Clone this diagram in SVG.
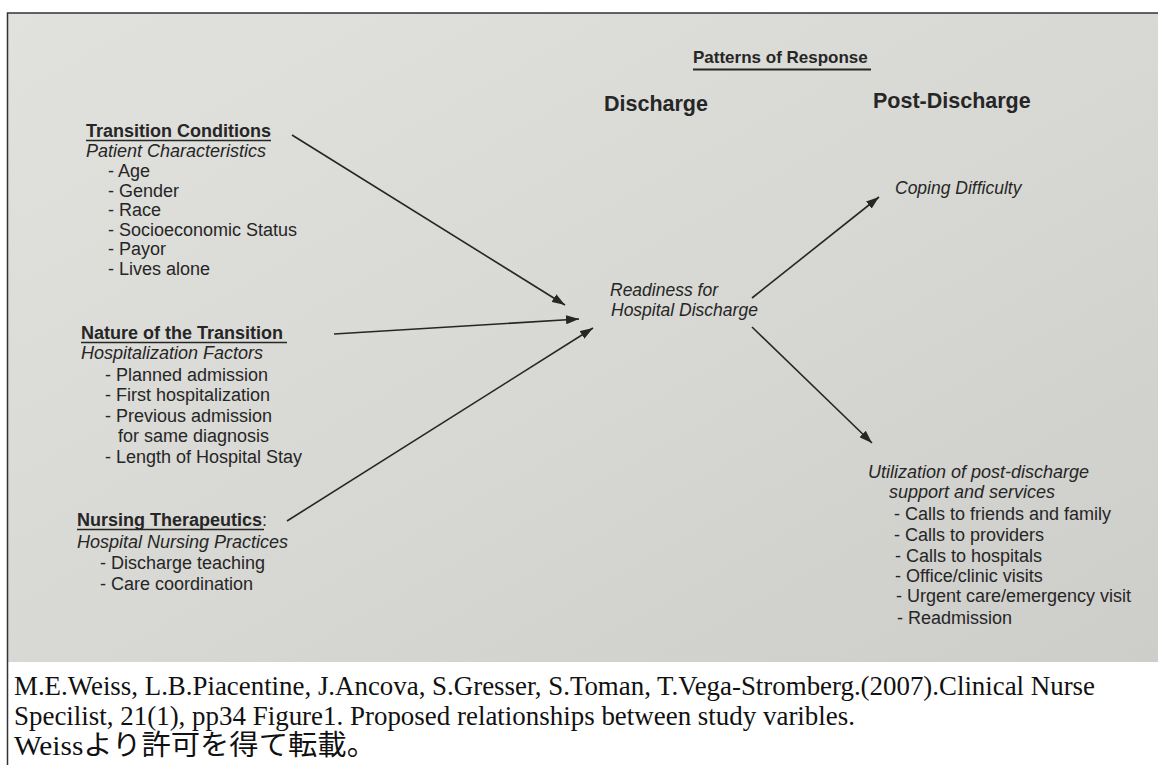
<svg xmlns="http://www.w3.org/2000/svg" width="1158" height="765" viewBox="0 0 1158 765">
<defs>
<linearGradient id="paper" x1="0" y1="0" x2="1" y2="1">
<stop offset="0" stop-color="#e1e1de"/>
<stop offset="0.45" stop-color="#d9d9d5"/>
<stop offset="1" stop-color="#cdcdc9"/>
</linearGradient>
<marker id="ah" markerUnits="userSpaceOnUse" markerWidth="13" markerHeight="9" refX="13" refY="4.5" orient="auto">
<path d="M0,0 L13,4.5 L0,9 z" fill="#262626"/>
</marker>
<style>
.t{font-family:"Liberation Sans",Arial,sans-serif;font-size:18px;fill:#262626}
.b{font-weight:bold}
.i{font-style:italic}
.h{font-size:21.5px}
.ul{stroke:#262626;stroke-width:1.6}
.c{font-family:"Liberation Serif","Times New Roman","Noto Sans CJK JP",serif;font-size:28px;fill:#111}
.cn line{stroke:#262626;stroke-width:1.6;fill:none;marker-end:url(#ah)}
</style>
</defs>
<rect x="0" y="0" width="1158" height="765" fill="#ffffff"/>
<rect x="7" y="13" width="1151" height="649" fill="url(#paper)"/>
<path d="M7.5,770 L7.5,13 L1158,13" fill="none" stroke="#333" stroke-width="1.5"/>

<g id="transition-conditions">
<text class="t b" x="86" y="137">Transition Conditions</text>
<line class="ul" x1="86" y1="140.5" x2="271" y2="140.5"/>
<text class="t i" x="86" y="157">Patient Characteristics</text>
<text class="t" x="108" y="177">- Age</text>
<text class="t" x="108" y="197">- Gender</text>
<text class="t" x="108" y="216">- Race</text>
<text class="t" x="108" y="236">- Socioeconomic Status</text>
<text class="t" x="108" y="255">- Payor</text>
<text class="t" x="108" y="275">- Lives alone</text>
</g>

<g id="nature-of-transition">
<text class="t b" x="81" y="339">Nature of the Transition</text>
<line class="ul" x1="81" y1="342.5" x2="287" y2="342.5"/>
<text class="t i" x="81" y="359">Hospitalization Factors</text>
<text class="t" x="105" y="381">- Planned admission</text>
<text class="t" x="105" y="401">- First hospitalization</text>
<text class="t" x="105" y="422">- Previous admission</text>
<text class="t" x="118" y="442">for same diagnosis</text>
<text class="t" x="105" y="463">- Length of Hospital Stay</text>
</g>

<g id="nursing-therapeutics">
<text class="t" x="77" y="526"><tspan class="b">Nursing Therapeutics</tspan>:</text>
<line class="ul" x1="77" y1="529.5" x2="264" y2="529.5"/>
<text class="t i" x="77" y="548">Hospital Nursing Practices</text>
<text class="t" x="100" y="569">- Discharge teaching</text>
<text class="t" x="100" y="590">- Care coordination</text>
</g>

<g id="patterns-of-response">
<text class="t b" x="693" y="63" style="font-size:17px">Patterns of Response</text>
<line class="ul" x1="693" y1="69.5" x2="871" y2="69.5" style="stroke-width:2"/>
</g>

<g id="discharge-header">
<text class="t b h" x="604" y="111">Discharge</text>
</g>

<g id="post-discharge-header">
<text class="t b h" x="873" y="108">Post-Discharge</text>
</g>

<g id="readiness">
<text class="t i" x="610" y="296" style="font-size:17.5px">Readiness for</text>
<text class="t i" x="611" y="316" style="font-size:17.5px">Hospital Discharge</text>
</g>

<g id="coping-difficulty">
<text class="t i" x="895" y="194" style="font-size:17.5px">Coping Difficulty</text>
</g>

<g id="utilization">
<text class="t i" x="868" y="478">Utilization of post-discharge</text>
<text class="t i" x="889" y="498">support and services</text>
<text class="t" x="894" y="520">- Calls to friends and family</text>
<text class="t" x="894" y="541">- Calls to providers</text>
<text class="t" x="895" y="562">- Calls to hospitals</text>
<text class="t" x="895" y="582">- Office/clinic visits</text>
<text class="t" x="896" y="602">- Urgent care/emergency visit</text>
<text class="t" x="897" y="624">- Readmission</text>
</g>

<g id="connectors" class="cn">
<line x1="292" y1="135" x2="565" y2="305"/>
<line x1="334" y1="334" x2="579" y2="319"/>
<line x1="287" y1="521" x2="593" y2="328"/>
<line x1="752" y1="298" x2="879" y2="197"/>
<line x1="752" y1="327" x2="872" y2="443"/>
</g>

<g id="caption">
<text class="c" x="14" y="695" textLength="1081" lengthAdjust="spacingAndGlyphs">M.E.Weiss, L.B.Piacentine, J.Ancova, S.Gresser, S.Toman, T.Vega-Stromberg.(2007).Clinical Nurse</text>
<text class="c" x="14" y="725" textLength="841" lengthAdjust="spacingAndGlyphs">Specilist, 21(1), pp34 Figure1. Proposed relationships between study varibles.</text>
<text class="c" x="14" y="755" textLength="362" lengthAdjust="spacingAndGlyphs">Weissより許可を得て転載。</text>
</g>
</svg>
